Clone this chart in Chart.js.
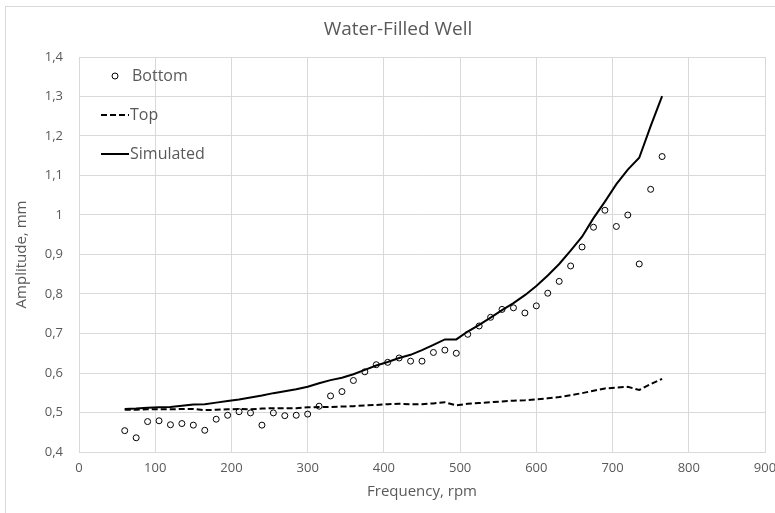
<!DOCTYPE html>
<html>
<head>
<meta charset="utf-8">
<script src="https://cdn.jsdelivr.net/npm/chart.js@4.4.1/dist/chart.umd.min.js"></script>
<style>
  html, body { margin: 0; padding: 0; background: #ffffff; overflow: hidden; }
  #wrap { position: relative; width: 775px; height: 513px; }
  #frame { position: absolute; left: 5px; top: 6px; width: 800px; height: 600px; border: 1px solid #d9d9d9; box-sizing: border-box; }
  canvas { position: absolute; left: 0; top: 0; }
</style>
</head>
<body>
<div id="wrap">
  <div id="frame"></div>
  <canvas id="c" width="775" height="513"></canvas>
</div>
<script>
// ---- data ----
const rpm = [60, 75, 90, 105, 120, 135, 150, 165, 180, 195, 210, 225, 240, 255, 270, 285,
  300, 315, 330, 345, 360, 375, 390, 405, 420, 435, 450, 465, 480, 495, 510, 525,
  540, 555, 570, 585, 600, 615, 630, 645, 660, 675, 690, 705, 720, 735, 750, 765];

const bottomSeries = [0.454, 0.436, 0.477, 0.479, 0.469, 0.472, 0.468, 0.455, 0.483, 0.493, 0.502, 0.499, 0.468, 0.499, 0.492, 0.493,
  0.496, 0.516, 0.542, 0.553, 0.581, 0.603, 0.621, 0.627, 0.638, 0.630, 0.630, 0.652, 0.658, 0.650, 0.698, 0.719,
  0.741, 0.761, 0.765, 0.752, 0.770, 0.802, 0.832, 0.871, 0.919, 0.969, 1.012, 0.971, 1.000, 0.876, 1.065, 1.148];

const topSeries = [0.507, 0.507, 0.508, 0.508, 0.508, 0.509, 0.509, 0.506, 0.507, 0.508, 0.509, 0.508, 0.510, 0.511, 0.511, 0.511,
  0.513, 0.514, 0.514, 0.515, 0.516, 0.518, 0.519, 0.521, 0.522, 0.521, 0.521, 0.523, 0.526, 0.518, 0.522, 0.524,
  0.526, 0.528, 0.530, 0.531, 0.533, 0.536, 0.539, 0.544, 0.549, 0.555, 0.561, 0.563, 0.565, 0.557, 0.572, 0.585];

const simulatedSeries = [0.509, 0.510, 0.512, 0.513, 0.514, 0.517, 0.520, 0.521, 0.525, 0.529, 0.533, 0.538, 0.543, 0.549, 0.554, 0.559,
  0.565, 0.574, 0.582, 0.588, 0.597, 0.608, 0.619, 0.628, 0.638, 0.646, 0.658, 0.671, 0.685, 0.685, 0.705, 0.722,
  0.740, 0.759, 0.777, 0.797, 0.820, 0.847, 0.876, 0.910, 0.945, 0.992, 1.034, 1.078, 1.115, 1.145, 1.225, 1.301];

const seriesNames = ['Bottom', 'Top', 'Simulated'];
const xTickLabels = ['0', '100', '200', '300', '400', '500', '600', '700', '800', '900'];
const yTickLabels = ['0,4', '0,5', '0,6', '0,7', '0,8', '0,9', '1', '1,1', '1,2', '1,3', '1,4'];
const chartTitle = 'Water-Filled Well';
const xTitle = 'Frequency, rpm';
const yTitle = 'Amplitude, mm';

// ---- build ----
const toXY = (ys) => rpm.map((x, i) => ({ x: x, y: ys[i] }));
const FONT = "'Open Sans', 'Liberation Sans', sans-serif";
const TXT = '#595959';
const GRID = '#d9d9d9';

// centre the title on the whole chart frame (which extends past the right edge)
const titleShift = {
  id: 'titleShift',
  afterLayout(chart) {
    const t = chart.titleBlock;
    if (t) { t.left = 31; t.right = 765; }
  }
};

const insideLegend = {
  id: 'insideLegend',
  afterDraw(chart) {
    const ctx = chart.ctx;
    const area = chart.chartArea;
    ctx.save();
    ctx.font = '16px ' + FONT;
    ctx.fillStyle = TXT;
    ctx.textBaseline = 'middle';
    chart.data.datasets.forEach((ds, i) => {
      const y = area.top + 19 + i * 39;
      const x0 = area.left + 22, x1 = area.left + 50;
      ctx.strokeStyle = '#000';
      if (ds.showLine === false) {
        ctx.lineWidth = 1;
        ctx.setLineDash([]);
        ctx.beginPath();
        ctx.arc((x0 + x1) / 2, y, 3, 0, Math.PI * 2);
        ctx.stroke();
        ctx.fillText(ds.label, area.left + 53, y);
      } else {
        ctx.lineWidth = ds.borderWidth;
        ctx.setLineDash(ds.borderDash || []);
        ctx.beginPath();
        ctx.moveTo(x0, y);
        ctx.lineTo(x1, y);
        ctx.stroke();
        ctx.setLineDash([]);
        ctx.fillText(ds.label, x1 + 1, y);
      }
    });
    ctx.restore();
  }
};

new Chart(document.getElementById('c'), {
  type: 'scatter',
  data: {
    datasets: [
      { label: seriesNames[0], data: toXY(bottomSeries), showLine: false, pointRadius: 3, pointBorderWidth: 1,
        pointBorderColor: '#000', pointBackgroundColor: 'rgba(255,255,255,0)', borderColor: '#000' },
      { label: seriesNames[1], data: toXY(topSeries), showLine: true, pointRadius: 0, borderColor: '#000',
        borderWidth: 2, borderDash: [6, 3], tension: 0 },
      { label: seriesNames[2], data: toXY(simulatedSeries), showLine: true, pointRadius: 0, borderColor: '#000',
        borderWidth: 2, tension: 0 }
    ]
  },
  options: {
    responsive: false,
    animation: false,
    devicePixelRatio: 1,
    layout: { padding: { left: 0, right: 10, top: 0, bottom: 0 } },
    plugins: {
      legend: { display: false },
      tooltip: { enabled: false },
      title: {
        display: true, text: chartTitle, color: TXT,
        font: { family: FONT, size: 19, weight: 'normal', lineHeight: 1.2 },
        padding: { top: 18.6, bottom: 15.6 }
      }
    },
    scales: {
      x: {
        type: 'linear', min: 0, max: 900,
        afterFit: (s) => { s.height = 61; s.paddingLeft = 0; s.paddingRight = 0; },
        afterBuildTicks: (s) => { s.ticks = xTickLabels.map((t, i) => ({ value: i * 100 })); },
        ticks: { color: TXT, font: { family: FONT, size: 13 }, padding: 8, maxRotation: 0,
          callback: (v, i) => xTickLabels[i] },
        grid: { color: GRID, lineWidth: 1, drawTicks: false },
        border: { color: GRID, width: 1 },
        title: { display: true, text: xTitle, color: TXT, font: { family: FONT, size: 15 },
          padding: { top: 0, bottom: 12 } }
      },
      y: {
        type: 'linear', min: 0.4, max: 1.4,
        afterFit: (s) => { s.width = 79; s.paddingTop = 0; s.paddingBottom = 0; },
        afterBuildTicks: (s) => { s.ticks = yTickLabels.map((t, i) => ({ value: 0.4 + i * 0.1 })); },
        ticks: { color: TXT, font: { family: FONT, size: 13 }, padding: 16,
          callback: (v, i) => yTickLabels[i] },
        grid: { color: GRID, lineWidth: 1, drawTicks: false },
        border: { color: GRID, width: 1 },
        title: { display: true, text: yTitle, color: TXT, font: { family: FONT, size: 15 },
          padding: { top: 13, bottom: 0 } }
      }
    }
  },
  plugins: [titleShift, insideLegend]
});
</script>
</body>
</html>
